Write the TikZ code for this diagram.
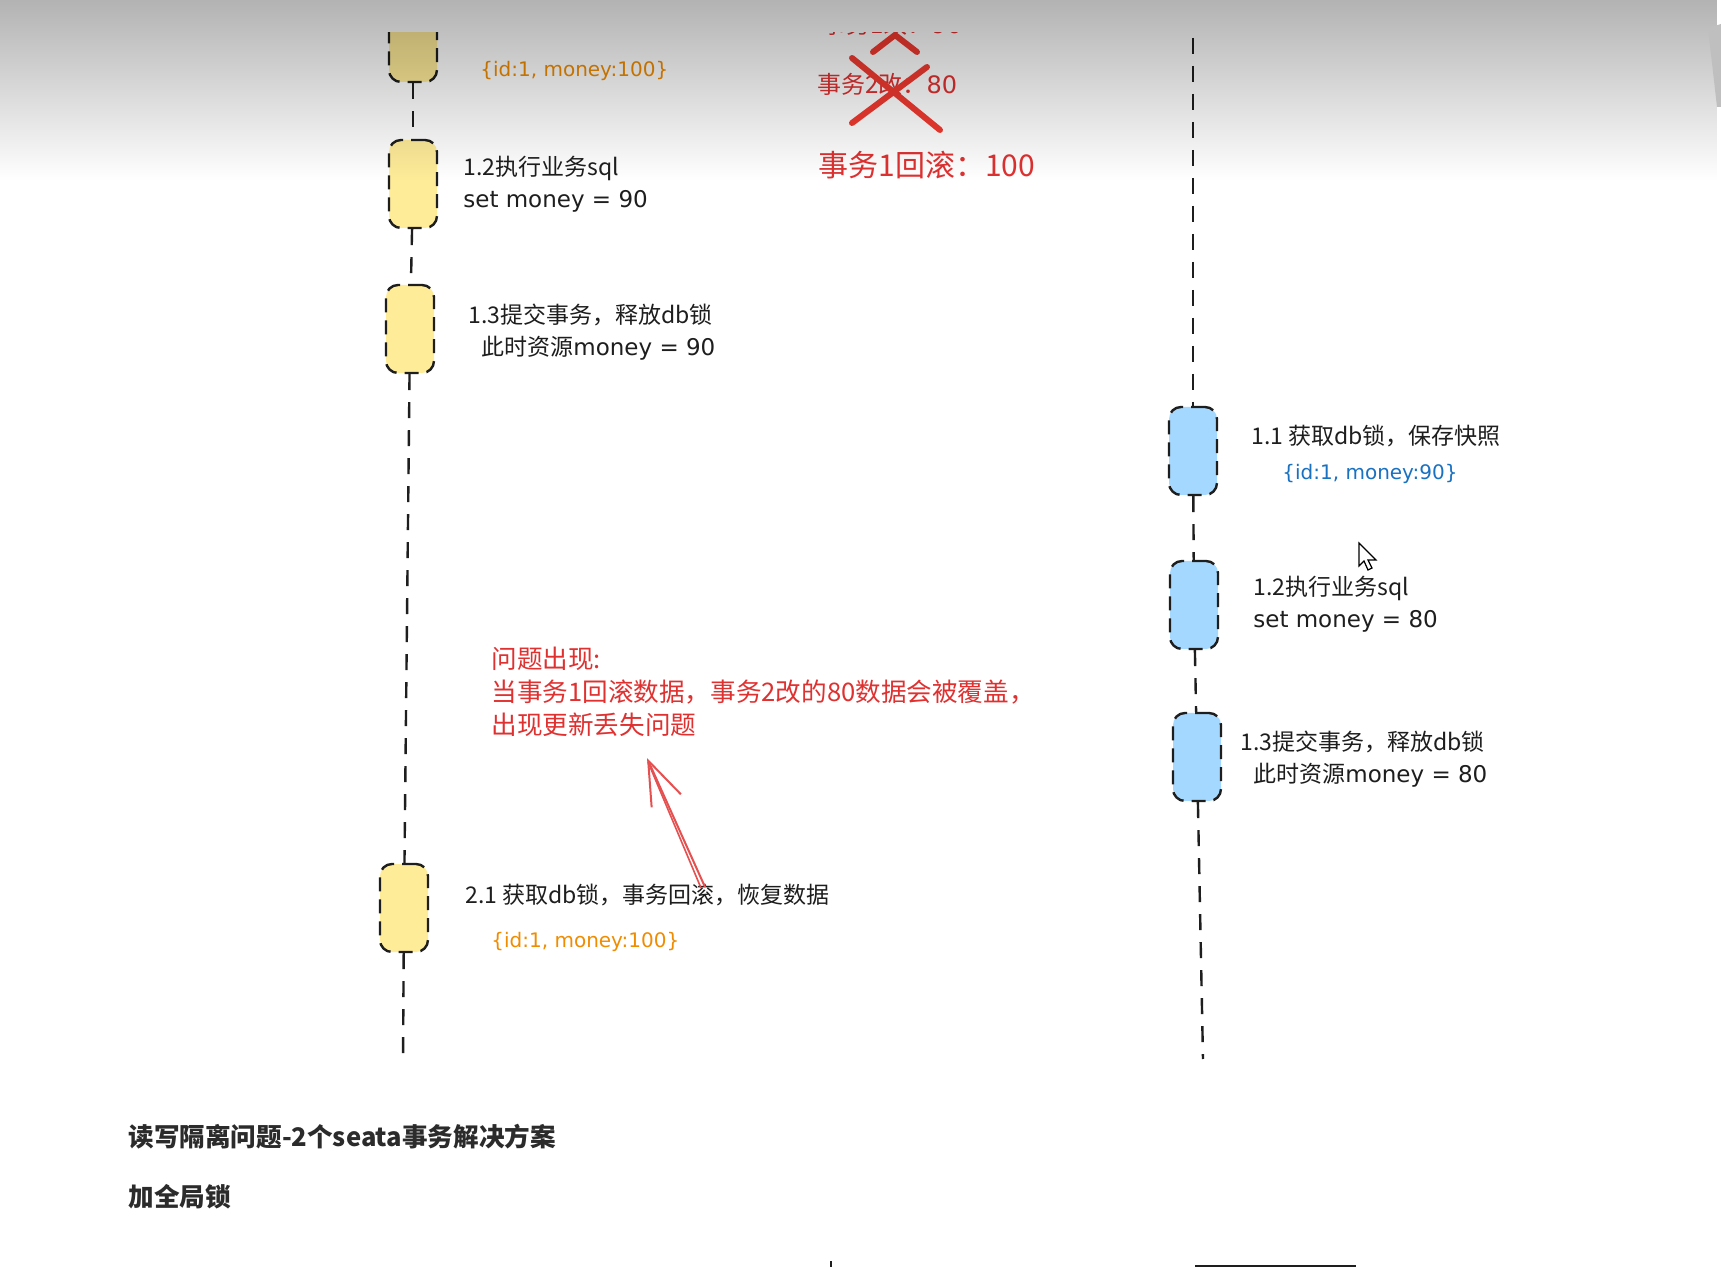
\documentclass[tikz,border=0pt]{standalone}
\usepackage{fontspec}
\setmainfont{Noto Sans CJK SC}
\newfontfamily\handlat{DejaVu Sans}
\newcommand{\lat}[1]{{\handlat #1}}
\usetikzlibrary{
  calc, % For coordinate calculations
  arrows.meta, % For arrow tips
  fadings % For the grey band at the top
}

\definecolor{inkblack}{HTML}{1E1E1E}
\definecolor{boxyellow}{HTML}{FFEC99}
\definecolor{boxblue}{HTML}{A5D8FF}
\definecolor{snaporange}{HTML}{F08C00}
\definecolor{snapblue}{HTML}{1971C2}
\definecolor{penred}{HTML}{E03131}
\definecolor{crossred}{HTML}{F23A30}
\definecolor{headgray}{HTML}{2B2B2B}

\tikzfading[name=topfade, top color=transparent!70, bottom color=transparent!100]

\begin{document}
\begin{tikzpicture}[
      x=0.5pt, y=-0.5pt, % one unit is one pixel, y runs down
      lockbox/.style={draw=inkblack, line width=1.2pt, dash pattern=on 7pt off 4pt,
        rounded corners=6pt, minimum width=24pt, minimum height=44pt, inner sep=0pt},
      ybox/.style={lockbox, fill=boxyellow}, % Transaction 1
      bbox/.style={lockbox, fill=boxblue}, % Transaction 2
      lifeline/.style={draw=inkblack, line width=1.2pt, dash pattern=on 8pt off 6pt},
      note/.style={anchor=west, inner sep=0pt, align=left, text=inkblack,
        font=\fontsize{11.5}{16}\selectfont},
      snap/.style={anchor=west, inner sep=0pt, font=\fontsize{10}{12}\handlat},
      rednote/.style={anchor=west, inner sep=0pt, align=left, text=penred},
      redpen/.style={draw=crossred, line width=3pt, line cap=round},
      head/.style={anchor=west, inner sep=0pt, text=headgray,
        font=\fontsize{12.8}{16}\selectfont\bfseries},
    ]

    \fill[white] (0,0) rectangle (1721,1267);
    \useasboundingbox (0,0) rectangle (1721,1267);

    \begin{scope}
    \clip (0,33) rectangle (1721,1267);

    % Transaction 1 (left)
    \node[ybox] (ya1) at (413,38) {};
    \node[ybox] (ya2) at (413,184) {};
    \node[ybox] (ya3) at (410,329) {};
    \node[ybox] (ya4) at (404,908) {};
    \coordinate (aend) at (403,1062);

    \draw[lifeline] (ya1) -- (ya2);
    \draw[lifeline] (ya2) -- (ya3);
    \draw[lifeline] (ya3) -- (ya4);
    \draw[lifeline] (ya4) -- (aend);

    \node[snap, text=snaporange] (snap1) at (480,71) {\{id:1, money:100\}};
    \node[note] (sql1) at (463,184) {1.2执行业务sql\\\lat{set money = 90}};
    \node[note] (commit1) at (468,332) {1.3提交事务，释放db锁\\\hspace*{6.5pt}此时资源\lat{money = 90}};

    % Transaction 2 (right)
    \coordinate (btop) at (1193,38);
    \node[bbox] (yb1) at (1193,451) {};
    \node[bbox] (yb2) at (1194,605) {};
    \node[bbox] (yb3) at (1197,757) {};
    \coordinate (bend) at (1203,1059);

    \draw[lifeline] (btop) -- (yb1);
    \draw[lifeline] (yb1) -- (yb2);
    \draw[lifeline] (yb2) -- (yb3);
    \draw[lifeline] (yb3) -- (bend);

    \node[note] (lock2) at (1251,436) {1.1 获取db锁，保存快照};
    \node[snap, text=snapblue] (snap2) at (1282,474) {\{id:1, money:90\}};
    \node[note] (sql2) at (1253,604) {1.2执行业务sql\\\lat{set money = 80}};
    \node[note] (commit2) at (1240,759) {1.3提交事务，释放db锁\\\hspace*{6.5pt}此时资源\lat{money = 80}};

    % Rollback of transaction 1
    \node[note] (undo1) at (465,895) {2.1 获取db锁，事务回滚，恢复数据};
    \node[snap, text=snaporange] (snap3) at (491,942) {\{id:1, money:100\}};

    % Red remarks at the top
    \node[rednote, font=\fontsize{12}{14}\selectfont] (gone) at (822,24) {事务1改：\lat{90}};
    \node[rednote, font=\fontsize{12}{14}\selectfont] (chg2) at (817,84) {事务2改：\lat{80}};
    \draw[redpen] (873,52) -- (895,35) -- (917,52);
    \draw[redpen] (852,58) -- (940,130);
    \draw[redpen] (852,123) -- (927,67);
    \node[rednote, font=\fontsize{15}{18}\selectfont] (back1) at (818,165) {事务1回滚：100};

    % The problem
    \node[rednote, font=\fontsize{12.8}{16.5}\selectfont] (issue) at (491,692)
      {问题出现:\\当事务1回滚数据，事务2改的80数据会被覆盖，\\出现更新丢失问题};
    \coordinate (arrtail) at (705,887);
    \coordinate (arrtip) at (647,758);
    \draw[penred!85, line width=1pt, -{Straight Barb[length=22pt, width=16pt]}] (arrtail) -- (arrtip);
    \draw[penred!85, line width=0.8pt] ($(arrtail)+(-4,1)$) -- ($(arrtip)+(1,4)$);

    % Headings below
    \node[head] (title) at (128,1137) {读写隔离问题-2个seata事务解决方案};
    \node[head] (sub) at (128,1197) {加全局锁};

    % Tops of the next drawing
    \draw[inkblack, line width=1pt] (831,1261) -- (831,1267);
    \draw[inkblack, line width=1.2pt] (1195,1266) -- (1356,1266);

    % Mouse pointer
    \filldraw[fill=white, draw=black, line width=0.6pt] (1359,543) -- ++(0,23) -- ++(5,-5)
      -- ++(4,9) -- ++(4,-2) -- ++(-4,-8) -- ++(8,0) -- cycle;
    \end{scope}

    % Grey band of the screen at the top
    \fill[black, path fading=topfade] (0,0) rectangle (1721,180);
    \fill[black!25] (1708,28) -- (1721,24) -- (1721,107) -- (1717,107) -- cycle;

  \end{tikzpicture}
\end{document}
